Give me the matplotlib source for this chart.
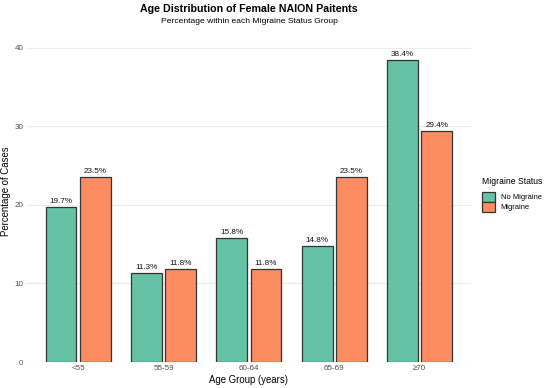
import matplotlib
matplotlib.use("Agg")
import matplotlib.pyplot as plt
from matplotlib.patches import Patch
import numpy as np

plt.rcParams['font.family'] = ['Liberation Sans', 'DejaVu Sans']

age_groups = ["<55", "55-59", "60-64", "65-69", "≥70"]
no_migraine = [19.7, 11.3, 15.8, 14.8, 38.4]
migraine = [23.5, 11.8, 11.8, 23.5, 29.4]
series_names = ["No Migraine", "Migraine"]
colors = ["#66C2A5", "#FC8D62"]

fig = plt.figure(figsize=(5.5, 3.88), dpi=100)
ax = fig.add_axes([0.049, 0.067, 0.807, 0.818])

x = np.arange(1, len(age_groups) + 1)
w = 0.36
off = 0.2
for vals, sign, col in [(no_migraine, -1, colors[0]), (migraine, 1, colors[1])]:
    bars = ax.bar(x + sign * off, vals, width=w, color=col, edgecolor="#333333", linewidth=0.9, zorder=3)
    for b, v in zip(bars, vals):
        ax.text(b.get_x() + b.get_width() / 2, v + 0.25, f"{v:.1f}%", ha="center", va="bottom",
                fontsize=5.9, color="#111111", zorder=4)

ax.set_xlim(0.4, 5.6)
ax.set_ylim(0, 40.4)
ax.set_xticks(x)
ax.set_xticklabels(age_groups)
ax.set_yticks([0, 10, 20, 30, 40])
ax.tick_params(axis="both", length=0, labelsize=5.8, labelcolor="#4D4D4D", pad=2.5)
ax.grid(axis="y", color="#EBEBEB", linewidth=0.8, zorder=0)
for s in ax.spines.values():
    s.set_visible(False)

ax.set_xlabel("Age Group (years)", fontsize=6.9, labelpad=1.5)
ax.set_ylabel("Percentage of Cases", fontsize=6.9)
ax.yaxis.set_label_coords(-0.036, 0.539)

fig.text(0.453, 0.977, "Age Distribution of Female NAION Paitents", ha="center", va="center",
         fontsize=7.7, fontweight="bold")
fig.text(0.453, 0.944, "Percentage within each Migraine Status Group", ha="center", va="center",
         fontsize=6.1)

handles = [Patch(facecolor=colors[i], edgecolor="#333333", linewidth=0.9, label=series_names[i]) for i in range(2)]
leg = fig.legend(handles=handles, title="Migraine Status", loc="upper left",
                 bbox_to_anchor=(0.877, 0.543), frameon=False, fontsize=5.4,
                 title_fontsize=6.2, handlelength=1.75, handleheight=1.7,
                 handletextpad=0.7, labelspacing=0.0, borderpad=0.0, borderaxespad=0.0)
leg._legend_box.align = "left"
leg._legend_box.sep = 4

fig.savefig("out.png", dpi=100)
